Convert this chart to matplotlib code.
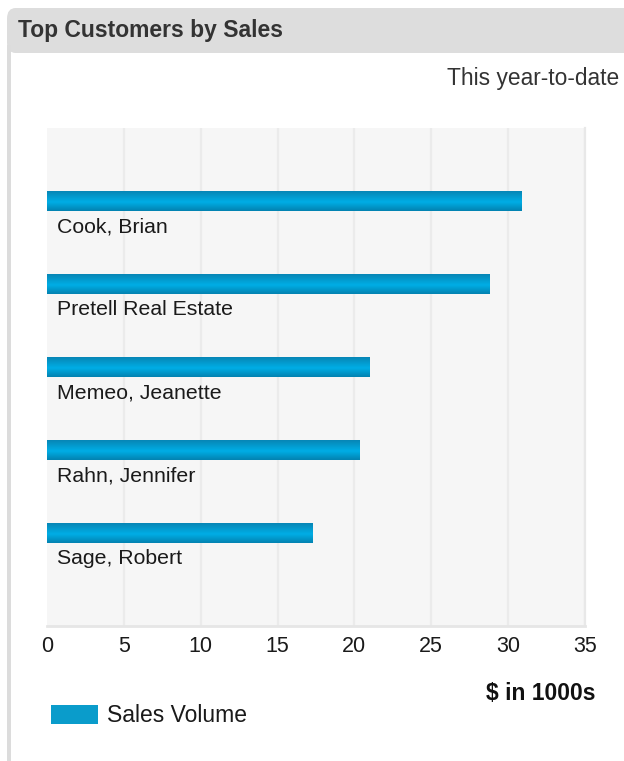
import numpy as np
import matplotlib
matplotlib.use("Agg")
import matplotlib.pyplot as plt
from matplotlib.patches import FancyBboxPatch, Rectangle
from matplotlib.colors import LinearSegmentedColormap

plt.rcParams['font.family'] = ['Liberation Sans', 'DejaVu Sans']

# ---- data ----
customers = ["Cook, Brian", "Pretell Real Estate", "Memeo, Jeanette", "Rahn, Jennifer", "Sage, Robert"]
sales = [30.9, 28.8, 21.0, 20.3, 17.3]
x_ticks = [0, 5, 10, 15, 20, 25, 30, 35]
title = "Top Customers by Sales"
subtitle = "This year-to-date"
x_unit = "$ in 1000s"
series_name = "Sales Volume"

W, H = 624, 761
DPI = 100
fig = plt.figure(figsize=(W / DPI, H / DPI), dpi=DPI)
fig.patch.set_facecolor("white")

def fx(px):
    return px / W

def fy(py):
    return 1 - py / H

# panel frame: header band + left border
hdr = FancyBboxPatch((fx(7), fy(53)), fx(700), (53 - 8) / H,
                     boxstyle="round,pad=0,rounding_size=0.014",
                     transform=fig.transFigure, facecolor="#dddddd",
                     edgecolor="none", zorder=0)
fig.patches.append(hdr)
fig.patches.append(Rectangle((fx(7), 0), fx(4), fy(45), transform=fig.transFigure,
                             facecolor="#dcdcdc", edgecolor="none", zorder=0))

fig.text(fx(18), fy(31), title, fontsize=16.5, fontweight="bold", color="#333333",
         va="center", ha="left")
fig.text(fx(619), fy(78), subtitle, fontsize=16.4, color="#333333", va="center", ha="right")

# ---- axes ----
ax = fig.add_axes([fx(47), fy(626), fx(585 - 47), (626 - 128) / H])
ax.set_facecolor("#f6f6f6")
n_slots = len(customers) + 1
bar_h = 20 / 83
ax.set_xlim(0, 35)
ax.set_ylim(n_slots, 0)

ypos = np.arange(1, len(customers) + 1) - bar_h / 2
bars = ax.barh(ypos, sales, height=bar_h, color="#0a9ccb", zorder=3, label=series_name)

cmap = LinearSegmentedColormap.from_list(
    "barg", [(0, "#0786b5"), (0.55, "#00aee6"), (1, "#0382b1")])
grad = np.linspace(0, 1, 64).reshape(-1, 1)
for rect, v, yc in zip(bars.patches, sales, ypos):
    im = ax.imshow(grad, cmap=cmap, aspect="auto", origin="upper",
                   extent=(0, v, yc + bar_h / 2, yc - bar_h / 2),
                   zorder=4, interpolation="bicubic")
    im.set_clip_path(rect)

for i, name in enumerate(customers):
    ax.text(0.65, i + 1 + 0.19, name, fontsize=15.3, color="#1a1a1a",
            va="center", ha="left", zorder=5)

ax.set_xlim(0, 35)
ax.set_ylim(n_slots, 0)
ax.set_xticks(x_ticks)
ax.set_xticklabels([str(t) for t in x_ticks], fontsize=15.5, color="#1a1a1a")
ax.set_yticks([])
ax.tick_params(axis="x", length=0, pad=7)
for xv in x_ticks[1:]:
    ax.axvline(xv, color="#ebebeb", linewidth=1.6, zorder=1)
for s in ["top", "left"]:
    ax.spines[s].set_visible(False)
ax.spines["bottom"].set_color("#e6e6e6")
ax.spines["bottom"].set_linewidth(2)
ax.spines["right"].set_color("#e8e8e8")
ax.spines["right"].set_linewidth(1.6)

fig.text(fx(595), fy(693), x_unit, fontsize=16.5, fontweight="bold", color="#111111",
         va="center", ha="right")

fs = 16.5
fs_px = fs * DPI / 72
leg = fig.legend(handles=[bars], labels=[series_name], loc="center left",
                 bbox_to_anchor=(fx(51), fy(716)), frameon=False, fontsize=fs,
                 handlelength=47 / fs_px, handleheight=20 / fs_px, handletextpad=9 / fs_px,
                 borderpad=0, borderaxespad=0)
for t in leg.get_texts():
    t.set_color("#1a1a1a")

fig.savefig("out.png", dpi=DPI, facecolor="white")
